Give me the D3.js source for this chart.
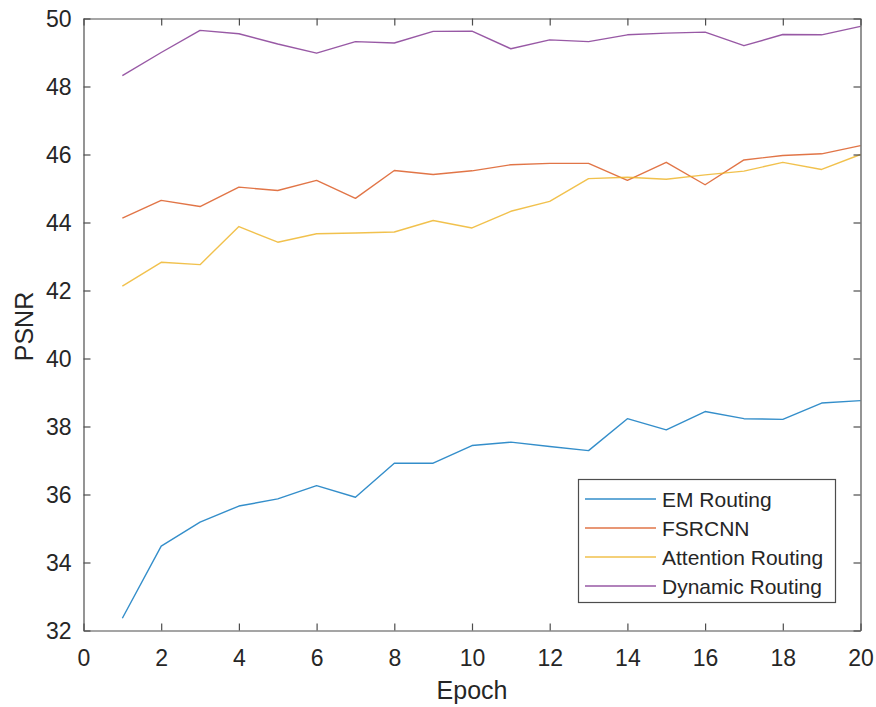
<!DOCTYPE html>
<html><head><meta charset="utf-8">
<script src="https://cdn.jsdelivr.net/npm/d3@7"></script>
<style>body{margin:0;background:#fff}svg{display:block}text{font-family:"Liberation Sans",Arial,sans-serif;fill:#262626}</style>
</head><body><svg id="c" width="876" height="707"></svg>
<script>
const epochs = d3.range(1, 21);
const emRouting = [32.36,34.48,35.19,35.66,35.87,36.26,35.92,36.92,36.92,37.44,37.54,37.41,37.29,38.23,37.90,38.44,38.23,38.21,38.69,38.76];
const fsrcnn = [44.13,44.65,44.47,45.04,44.94,45.24,44.71,45.53,45.41,45.52,45.70,45.74,45.74,45.24,45.77,45.11,45.84,45.97,46.02,46.26];
const attentionRouting = [42.13,42.83,42.76,43.88,43.42,43.67,43.69,43.72,44.06,43.84,44.33,44.62,45.29,45.33,45.27,45.40,45.51,45.77,45.56,46.00];
const dynamicRouting = [48.32,49.00,49.65,49.55,49.25,48.98,49.32,49.28,49.62,49.63,49.11,49.37,49.32,49.52,49.57,49.60,49.20,49.53,49.52,49.77];
const seriesNames = ["EM Routing","FSRCNN","Attention Routing","Dynamic Routing"];
const seriesColors = ["#0072BD","#D95319","#EDB120","#7E2F8E"];
const xTicks = d3.range(0, 21, 2);
const yTicks = d3.range(32, 51, 2);

const series = [emRouting, fsrcnn, attentionRouting, dynamicRouting];
const svg = d3.select("#c");
const L = 83.5, R = 860.5, T = 18.5, B = 630.5;
const x = d3.scaleLinear().domain([0, 20]).range([L, R]);
const y = d3.scaleLinear().domain([32, 50]).range([B, T]);

// lines
const line = d3.line().x((d, i) => x(epochs[i])).y(d => y(d));
series.forEach((s, k) => {
  svg.append("path").datum(s).attr("d", line).attr("fill", "none")
    .attr("stroke", seriesColors[k]).attr("stroke-opacity", 0.8)
    .attr("stroke-width", 1.4).attr("stroke-linejoin", "round");
});

// axes
const axCol = "#4d4d4d";
const gx = svg.append("g").attr("transform", `translate(0,${B})`)
  .call(d3.axisBottom(x).tickValues(xTicks).tickSizeInner(-7).tickSizeOuter(0).tickPadding(0));
const gy = svg.append("g").attr("transform", `translate(${L},0)`)
  .call(d3.axisLeft(y).tickValues(yTicks).tickSizeInner(-7).tickSizeOuter(0).tickPadding(12));
const gxt = svg.append("g").attr("transform", `translate(0,${T})`)
  .call(d3.axisTop(x).tickValues(xTicks).tickSizeInner(-7).tickSizeOuter(0).tickFormat(""));
const gyr = svg.append("g").attr("transform", `translate(${R},0)`)
  .call(d3.axisRight(y).tickValues(yTicks).tickSizeInner(-7).tickSizeOuter(0).tickFormat(""));
[gx, gy, gxt, gyr].forEach(g => {
  g.select(".domain").attr("stroke", axCol).attr("stroke-width", 1.2);
  g.selectAll(".tick line").attr("stroke", axCol).attr("stroke-width", 1.2);
  g.selectAll(".tick text").attr("font-size", 23).attr("fill", "#262626")
    .style("font-family", "'Liberation Sans',Arial,sans-serif");
});
gx.selectAll(".tick text").attr("y", 35.5).attr("dy", 0);
gy.selectAll(".tick text").attr("dy", "0.36em");

svg.append("text").attr("x", (L + R) / 2).attr("y", 699).attr("text-anchor", "middle")
  .attr("font-size", 25).text("Epoch");
svg.append("text").attr("transform", `translate(33,${(T + B) / 2 + 2}) rotate(-90)`).attr("text-anchor", "middle")
  .attr("font-size", 25).text("PSNR");

// legend
const lg = svg.append("g");
lg.append("rect").attr("x", 578.5).attr("y", 479.5).attr("width", 257).attr("height", 123)
  .attr("fill", "#fff").attr("stroke", axCol).attr("stroke-width", 1.2);
seriesNames.forEach((n, k) => {
  const yy = 499 + k * 29;
  lg.append("line").attr("x1", 585).attr("x2", 656).attr("y1", yy).attr("y2", yy)
    .attr("stroke", seriesColors[k]).attr("stroke-opacity", 0.8).attr("stroke-width", 1.4);
  lg.append("text").attr("x", 662).attr("y", yy).attr("dy", "0.36em").attr("font-size", 21).text(n);
});
</script></body></html>
